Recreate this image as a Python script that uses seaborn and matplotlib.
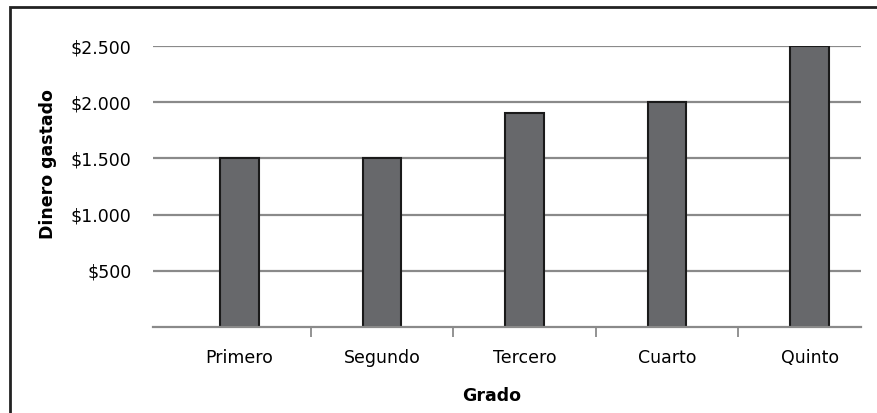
"""Dinero gastado por grado - bar chart with seaborn."""
import matplotlib
matplotlib.use('Agg')
import matplotlib.pyplot as plt
from matplotlib.patches import Rectangle
from matplotlib.ticker import FixedLocator, FuncFormatter
import pandas as pd
import seaborn as sns

# data
grados = ['Primero', 'Segundo', 'Tercero', 'Cuarto', 'Quinto']
dinero = [1500, 1500, 1900, 2000, 2500]
y_ticks = [500, 1000, 1500, 2000, 2500]

df = pd.DataFrame({'Grado': grados, 'Dinero gastado': dinero})

sns.set_style('white')
plt.rcParams['font.family'] = ['DejaVu Sans']
plt.rcParams['text.color'] = 'black'
plt.rcParams['axes.labelcolor'] = 'black'
plt.rcParams['xtick.labelcolor'] = 'black'
plt.rcParams['ytick.labelcolor'] = 'black'

W, H = 877, 413
fig = plt.figure(figsize=(W / 100, H / 100), dpi=100)
ax = fig.add_axes([153 / W, 1 - 327 / H, (861 - 153) / W, (327 - 46) / H])

# grid lines behind the bars
ax.set_axisbelow(True)
ax.yaxis.grid(True, color='#8a8a8a', linewidth=1.6)
ax.xaxis.grid(False)

sns.barplot(data=df, x='Grado', y='Dinero gastado', color='#67686b',
            edgecolor='#1a1a1a', linewidth=1.5, width=0.27, saturation=1,
            ax=ax)

# the category band is shifted right of the axis line in the original
ax.set_xlim(-0.607, 4.36)
ax.set_ylim(0, 2500)
ax.set_yticks(y_ticks)
ax.yaxis.set_major_formatter(
    FuncFormatter(lambda v, p: '${:,.0f}'.format(v).replace(',', '.')))

# ticks between categories on the x axis
ax.xaxis.set_minor_locator(FixedLocator([i + 0.5 for i in range(len(grados) - 1)]))
ax.tick_params(axis='x', which='minor', bottom=True, length=7, width=1.3,
               color='#8a8a8a', direction='out')
ax.tick_params(axis='x', which='major', bottom=False, labelsize=12.5, pad=12)
ax.tick_params(axis='y', which='major', left=False, labelsize=12.5, pad=12)

for side in ['top', 'right', 'left']:
    ax.spines[side].set_visible(False)
ax.spines['bottom'].set_color('#8a8a8a')
ax.spines['bottom'].set_linewidth(1.6)

ax.set_xlabel('Grado', fontsize=12.5, fontweight='bold')
ax.set_ylabel('Dinero gastado', fontsize=12.5, fontweight='bold')
ax.xaxis.set_label_coords(0.478, -0.213)
ax.yaxis.set_label_coords(-0.136, 0.58)

# outer frame of the chart
fig.patches.append(Rectangle((10 / W, -0.01), 1.0, 1 - 7 / H + 0.01,
                             transform=fig.transFigure, fill=False,
                             edgecolor='#222222', linewidth=2))

fig.savefig('out.png', dpi=100)
